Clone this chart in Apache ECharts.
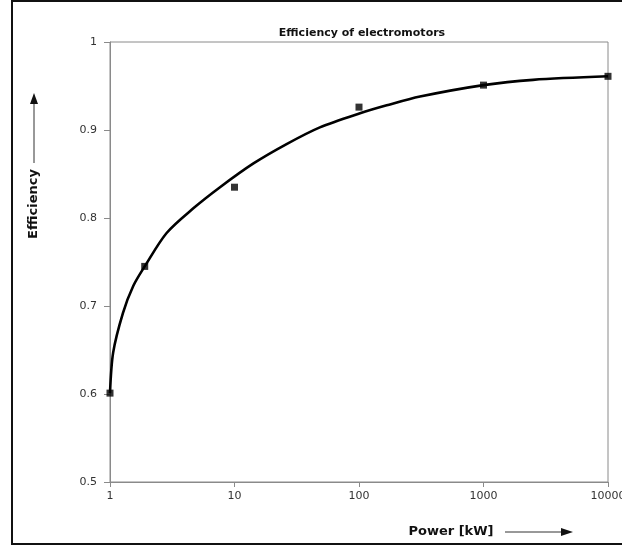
<!DOCTYPE html>
<html>
<head>
<meta charset="utf-8">
<script src="https://cdn.jsdelivr.net/npm/echarts@6/dist/echarts.min.js"></script>
<style>html,body{margin:0;padding:0;background:#fff}#c{width:622px;height:552px}</style>
</head>
<body>
<div id="c"></div>
<script>
const chartTitle = 'Efficiency of electromotors';
const xName = 'Power [kW]';
const yName = 'Efficiency';
const powerKW = [1, 1.9, 10, 100, 1000, 10000];
const efficiency = [0.601, 0.745, 0.835, 0.926, 0.951, 0.961];
const curvePower = [1, 1.06, 1.27, 1.54, 1.9, 2.85, 4.67, 7.65, 14.2, 26.2, 48.5, 102, 167, 309, 1000, 2500, 10000];
const curveEff = [0.601, 0.647, 0.692, 0.723, 0.745, 0.783, 0.811, 0.835, 0.862, 0.884, 0.903, 0.919, 0.928, 0.938, 0.951, 0.957, 0.961];

const chart = echarts.init(document.getElementById('c'), null, {renderer: 'canvas'});
const tickFont = 'DejaVu Sans';
chart.setOption({
  animation: false,
  backgroundColor: '#fff',
  title: {
    text: chartTitle, left: 357, top: 23, textAlign: 'center',
    textStyle: {fontFamily: tickFont, fontWeight: 'bold', fontSize: 11, color: '#111'}
  },
  grid: {left: 110, right: 14, top: 42, bottom: 70, outerBoundsMode: 'none', containLabel: false,
    show: true, borderColor: '#8a8a8a', borderWidth: 1, backgroundColor: 'transparent'},
  xAxis: {
    type: 'log', logBase: 10, min: 1, max: 10000,
    axisLine: {show: true, lineStyle: {color: '#8a8a8a', width: 1}},
    axisTick: {show: true, inside: false, length: 5, lineStyle: {color: '#8a8a8a'}},
    minorTick: {show: false},
    splitLine: {show: false},
    axisLabel: {margin: 9, fontFamily: tickFont, fontSize: 11, color: '#333', showMaxLabel: true, showMinLabel: true,
      formatter: v => String(Math.round(v))}
  },
  yAxis: {
    type: 'value', min: 0.5, max: 1, interval: 0.1,
    axisLine: {show: true, lineStyle: {color: '#8a8a8a', width: 1}},
    axisTick: {show: true, length: 6, lineStyle: {color: '#8a8a8a'}},
    splitLine: {show: false},
    axisLabel: {margin: 13, fontFamily: tickFont, fontSize: 11, color: '#333',
      formatter: v => String(Math.round(v * 10) / 10)}
  },
  series: [
    {
      type: 'line', data: curvePower.map((p, i) => [p, curveEff[i]]),
      smooth: 0.3, showSymbol: false, symbol: 'none',
      lineStyle: {color: '#000', width: 2.6}, z: 2
    },
    {
      type: 'scatter', data: powerKW.map((p, i) => [p, efficiency[i]]),
      symbol: 'rect', symbolSize: 7, itemStyle: {color: '#000'}, z: 3
    }
  ],
  graphic: [
    {type: 'rect', shape: {x: 12, y: 1, width: 640, height: 543}, style: {fill: 'none', stroke: '#111', lineWidth: 2}, silent: true},
    {type: 'text', x: 34, y: 204, rotation: Math.PI / 2,
      style: {text: yName, font: 'bold 13px "DejaVu Sans"', fill: '#111', textAlign: 'center', textVerticalAlign: 'middle'}},
    {type: 'line', shape: {x1: 34, y1: 163, x2: 34, y2: 101}, style: {stroke: '#333', lineWidth: 1}},
    {type: 'polygon', shape: {points: [[34, 93], [30, 104], [38, 104]]}, style: {fill: '#111'}},
    {type: 'text', x: 451, y: 532,
      style: {text: xName, font: 'bold 13px "DejaVu Sans"', fill: '#111', textAlign: 'center', textVerticalAlign: 'middle'}},
    {type: 'line', shape: {x1: 505, y1: 532, x2: 564, y2: 532}, style: {stroke: '#333', lineWidth: 1}},
    {type: 'polygon', shape: {points: [[573, 532], [561, 528], [561, 536]]}, style: {fill: '#111'}}
  ]
});
</script>
</body>
</html>
